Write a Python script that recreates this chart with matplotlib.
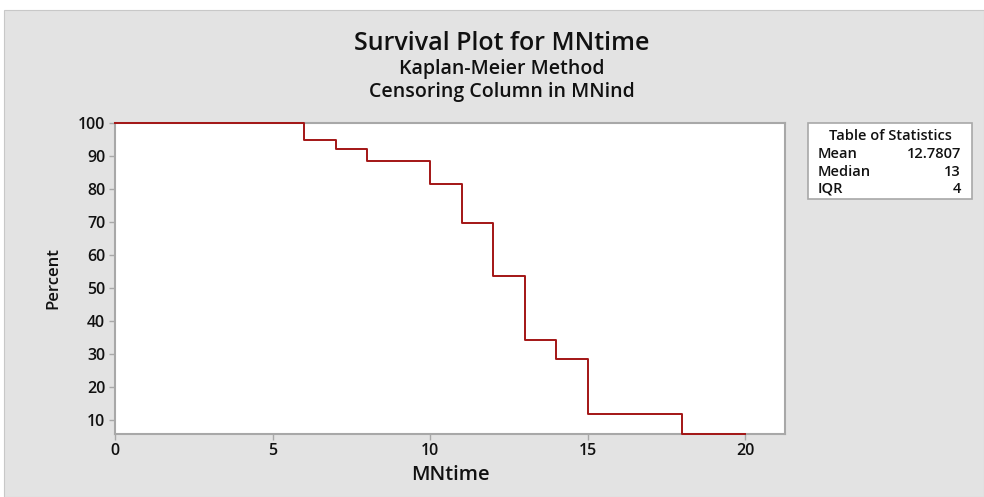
import matplotlib
matplotlib.use("Agg")
import matplotlib.pyplot as plt
from matplotlib.patches import Rectangle

# Data
step_times = [0, 6, 7, 8, 10, 11, 12, 13, 14, 15, 18]
survival_pct = [100, 94.9, 92.1, 88.6, 81.6, 69.8, 53.6, 34.3, 28.6, 11.8, 5.9]
end_time = 20
x_ticks = [0, 5, 10, 15, 20]
y_ticks = [10, 20, 30, 40, 50, 60, 70, 80, 90, 100]
stat_names = ["Mean", "Median", "IQR"]
stat_values = ["12.7807", "13", "4"]

W, H = 984, 497
plt.rcParams['font.family'] = ['Open Sans', 'DejaVu Sans']
fig = plt.figure(figsize=(W / 100, H / 100), dpi=100)
fig.patch.set_facecolor("white")

# gray panel background
fig.patches.append(Rectangle((4 / W, 0), 1 - 4 / W, 1 - 10 / H, transform=fig.transFigure,
                             facecolor="#e3e3e3", edgecolor="#c8c8c8", lw=0.8, zorder=-10))

ax = fig.add_axes([115 / W, 1 - 433.7 / H, (785 - 115) / W, (433.7 - 123) / H])
ax.set_zorder(1)
ax.set_facecolor("white")

xs = step_times + [end_time]
ys = survival_pct + [survival_pct[-1]]
ax.step(xs, ys, where="post", color="#a31515", lw=1.4, zorder=3, clip_on=False)

ax.set_xlim(0, 21.26)
ax.set_ylim(5.9, 100)
ax.set_xticks(x_ticks)
ax.set_yticks(y_ticks)
for s in ax.spines.values():
    s.set_color("#a8a8a8")
    s.set_linewidth(1.5)
    s.set_zorder(2)
ax.tick_params(colors="#a8a8a8", labelcolor="#111111", labelsize=11.5, length=4, width=1, pad=3)
for lbl in ax.get_xticklabels() + ax.get_yticklabels():
    lbl.set_fontweight("semibold")

ax.set_xlabel("MNtime", fontsize=14.5, fontweight="semibold", color="#111111", labelpad=4)
ax.set_ylabel("Percent", fontsize=12, fontweight="semibold", color="#111111", labelpad=12)

fig.text(502 / W, 1 - 43 / H, "Survival Plot for MNtime", ha="center", va="center",
         fontsize=18, fontweight="semibold", color="#111111")
fig.text(502 / W, 1 - 69 / H, "Kaplan-Meier Method", ha="center", va="center",
         fontsize=14, fontweight="semibold", color="#111111")
fig.text(502 / W, 1 - 92 / H, "Censoring Column in MNind", ha="center", va="center",
         fontsize=14, fontweight="semibold", color="#111111")

# Table of statistics box
bx0, bx1, by0, by1 = 808, 972, 123, 199
fig.patches.append(Rectangle((bx0 / W, 1 - by1 / H), (bx1 - bx0) / W, (by1 - by0) / H,
                             transform=fig.transFigure, facecolor="white",
                             edgecolor="#a8a8a8", lw=1.2, zorder=1))
fig.text(890 / W, 1 - 136 / H, "Table of Statistics", ha="center", va="center",
         fontsize=10.5, fontweight="semibold", color="#111111", zorder=2)
for i, (n, v) in enumerate(zip(stat_names, stat_values)):
    yy = 1 - (154 + i * 17.5) / H
    fig.text(818 / W, yy, n, ha="left", va="center", fontsize=10.5, fontweight="semibold",
             color="#111111", zorder=2)
    fig.text(961 / W, yy, v, ha="right", va="center", fontsize=10.5, fontweight="semibold",
             color="#111111", zorder=2)

fig.savefig("out.png", dpi=100, facecolor=fig.get_facecolor())
